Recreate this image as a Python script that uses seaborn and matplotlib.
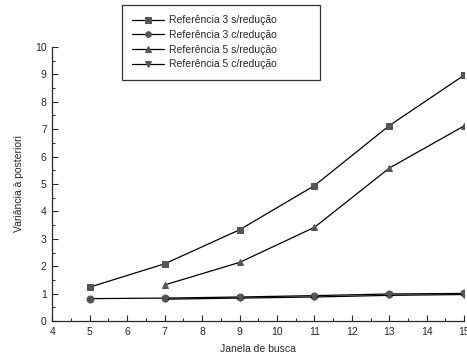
import matplotlib
matplotlib.use("Agg")
import matplotlib.pyplot as plt
from matplotlib.ticker import MultipleLocator
import seaborn as sns
import pandas as pd

# janela de busca (x) and variance values
janela_3s = [5, 7, 9, 11, 13, 15]
ref3_sem = [1.24, 2.09, 3.33, 4.94, 7.13, 8.97]

janela_3c = [5, 7, 9, 11, 13, 15]
ref3_com = [0.82, 0.84, 0.88, 0.93, 0.99, 1.01]

janela_5s = [7, 9, 11, 13, 15]
ref5_sem = [1.32, 2.14, 3.42, 5.58, 7.12]

janela_5c = [7, 9, 11, 13, 15]
ref5_com = [0.80, 0.84, 0.88, 0.94, 0.97]

series = [
    ("Referência 3 s/redução", janela_3s, ref3_sem, "s"),
    ("Referência 3 c/redução", janela_3c, ref3_com, "o"),
    ("Referência 5 s/redução", janela_5s, ref5_sem, "^"),
    ("Referência 5 c/redução", janela_5c, ref5_com, "v"),
]

sns.set_style("ticks")
plt.rcParams["font.family"] = ["Liberation Sans", "DejaVu Sans"]

fig = plt.figure(figsize=(4.67, 3.58), dpi=100)
ax = fig.add_axes([0.112, 0.103, 0.882, 0.766])

marker_color = "#555555"
for label, xs, ys, mk in series:
    df = pd.DataFrame({"x": xs, "y": ys})
    sns.lineplot(data=df, x="x", y="y", ax=ax, color="black", linewidth=0.9,
                 marker=mk, markersize=5, markerfacecolor=marker_color,
                 markeredgecolor=marker_color, label=label)

ax.set_xlim(4, 15)
ax.set_ylim(0, 10)
ax.xaxis.set_major_locator(MultipleLocator(1))
ax.xaxis.set_minor_locator(MultipleLocator(0.5))
ax.yaxis.set_major_locator(MultipleLocator(1))
ax.yaxis.set_minor_locator(MultipleLocator(0.5))
ax.tick_params(which="major", direction="in", length=4, width=0.8, labelsize=7.5, pad=4)
ax.tick_params(which="minor", direction="in", length=2, width=0.7)
for side in ("top", "right"):
    ax.spines[side].set_visible(False)
for side in ("left", "bottom"):
    ax.spines[side].set_linewidth(0.9)

ax.set_xlabel("Janela de busca", fontsize=7.5, labelpad=5)
ax.set_ylabel("Variância à posteriori", fontsize=7.5, labelpad=8)

leg = ax.legend(loc="upper left",
                bbox_to_anchor=(122 / 467, 1 - 80 / 358, 198 / 467, 75 / 358),
                bbox_transform=fig.transFigure, mode="expand", fontsize=7.5,
                frameon=True, fancybox=False, edgecolor="black",
                borderaxespad=0, handlelength=3.0, handletextpad=0.5,
                borderpad=1.0, labelspacing=0.45, markerscale=0.8)
leg.get_frame().set_linewidth(0.9)

fig.savefig("out.png", dpi=100)
